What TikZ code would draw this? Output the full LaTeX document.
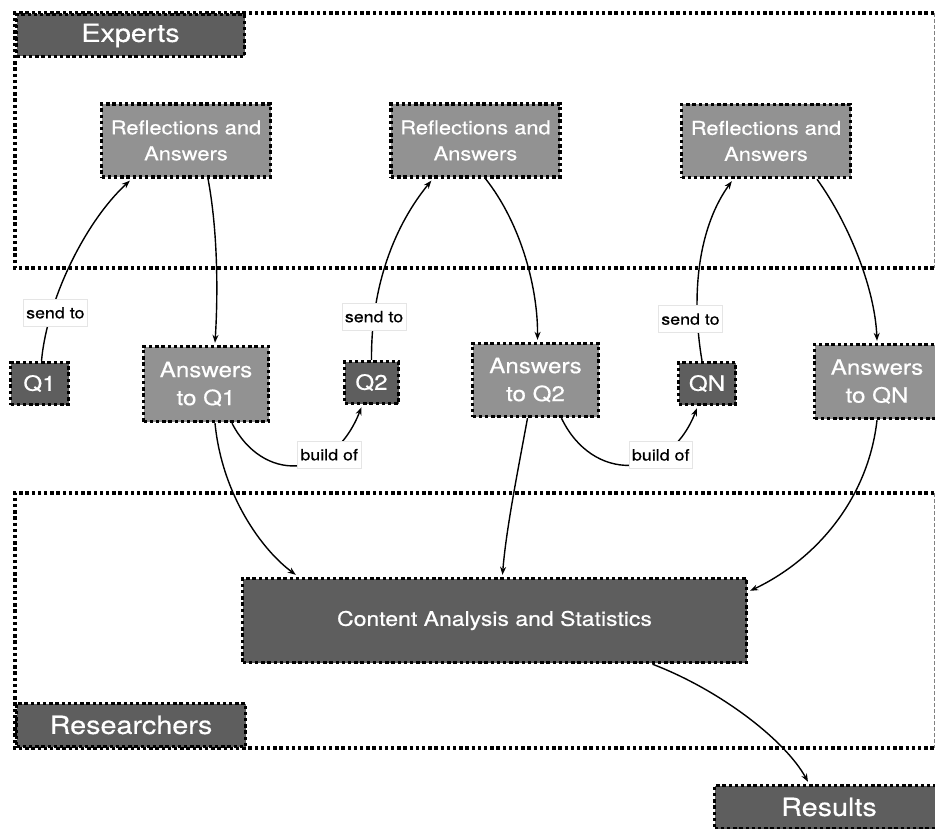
\documentclass[tikz,border=0pt]{standalone}
\usepackage{fontspec}
\setsansfont[FakeStretch=1.15,FakeBold=0.5]{TeX Gyre Heros}
\renewcommand{\familydefault}{\sfdefault}
\usetikzlibrary{arrows.meta,calc}
\definecolor{dgray}{HTML}{5E5E5E}
\definecolor{mgray}{HTML}{929292}
\begin{document}
\begin{tikzpicture}[x=1pt,y=-1pt,
  dotline/.style={line width=3.4pt,dash pattern=on 3.4pt off 2.8pt},
  gbox/.style={draw,dotline,text=white,inner sep=0pt,align=center,font=\fontsize{21}{28}\selectfont},
  dark/.style={gbox,fill=dgray},
  mid/.style={gbox,fill=mgray},
  refl/.style={mid,minimum width=169pt,minimum height=73pt,font=\fontsize{19}{26}\selectfont},
  big/.style={dark,minimum width=229pt,minimum height=43pt,font=\fontsize{25}{30}\selectfont},
  qbox/.style={dark,minimum height=42pt},
  abox/.style={mid,minimum width=125pt,minimum height=74pt},
  edgelbl/.style={fill=white,draw=black!10,line width=0.6pt,text=black,font=\fontsize{15.5}{18}\selectfont,inner xsep=3pt,inner ysep=3pt,minimum height=27pt},
  arr/.style={line width=1.4pt,-{Stealth[length=8pt,width=6pt]}},
  rightedge/.style={draw=gray,line width=0.6pt,dash pattern=on 4pt off 2pt}
]
\useasboundingbox (0,0) rectangle (935,829);
% containers
\draw[dotline] (934,13) -- (15,13) -- (15,268) -- (934,268);
\draw[rightedge] (934,13) -- (934,268);
\draw[dotline] (934,493) -- (15,493) -- (15,748) -- (934,748);
\draw[rightedge] (934,493) -- (934,748);
% nodes
\node[big,minimum width=228pt,minimum height=42pt] (experts) at (130.5,35.5) {Experts};
\node[refl] (refl1) at (186,140.5) {Reflections and\\Answers};
\node[refl] (refl2) at (475.5,140.5) {Reflections and\\Answers};
\node[refl] (refl3) at (766,141) {Reflections and\\Answers};
\node[qbox,minimum width=58pt] (q1) at (39.5,383.5) {Q1};
\node[abox,minimum height=75pt] (a1) at (206,384) {Answers\\to Q1};
\node[qbox,minimum width=54pt] (q2) at (371.5,382.5) {Q2};
\node[abox,minimum width=126pt,minimum height=73pt] (a2) at (535.5,380) {Answers\\to Q2};
\node[qbox,minimum width=57pt] (qn) at (707,383.5) {QN};
\node[abox] (an) at (877,381.5) {Answers\\to QN};
\node[dark,minimum width=504pt,minimum height=84pt,font=\fontsize{20}{24}\selectfont] (content) at (494.5,620.5) {Content Analysis and Statistics};
\node[big] (researchers) at (131,725) {Researchers};
\node[big] (results) at (829,807) {Results};
% connectors
\draw[arr] ($(q1.north)+(2,0)$) .. controls (47,300) and (85,222) .. node[edgelbl,pos=0.25,xshift=4pt]{send to} ($(refl1.south west)+(30,2)$);
\draw[arr] ($(refl1.south)+(22,0)$) .. controls (218,232) and (218,295) .. ($(a1.north)+(9,-2)$);
\draw[arr] ($(a1.south)+(26,0)$) .. controls (262,482) and (332,482) .. node[edgelbl,pos=0.7,xshift=3pt]{build of} ($(q2.south)+(-10,2)$);
\draw[arr] (q2.north) .. controls (371,285) and (395,225) .. node[edgelbl,pos=0.2]{send to} ($(refl2.south west)+(42,2)$);
\draw[arr] ($(refl2.south)+(10,0)$) .. controls (522,225) and (538,290) .. ($(a2.north)+(2,-2)$);
\draw[arr] ($(a2.south)+(26,0)$) .. controls (592,482) and (668,482) .. node[edgelbl,pos=0.7]{build of} ($(qn.south)+(-10,2)$);
\draw[arr] ($(qn.north)+(-5,0)$) .. controls (690,290) and (700,225) .. node[edgelbl,pos=0.2,xshift=-7pt]{send to} ($(refl3.south west)+(52,2)$);
\draw[arr] ($(refl3.south)+(51,0)$) .. controls (850,225) and (875,290) .. ($(an.north)+(0,-2)$);
\draw[arr] ($(a1.south)+(9,0)$) .. controls (222,495) and (262,550) .. ($(content.north west)+(55,-2)$);
\draw[arr] ($(a2.south)+(-8,0)$) .. controls (518,470) and (506,530) .. ($(content.north)+(8,-2)$);
\draw[arr] (an.south) .. controls (868,500) and (815,560) .. ($(content.north east)+(2,14)$);
\draw[arr] ($(content.south)+(158,0)$) .. controls (720,690) and (785,740) .. ($(results.north)+(-21,-2)$);
\end{tikzpicture}
\end{document}
